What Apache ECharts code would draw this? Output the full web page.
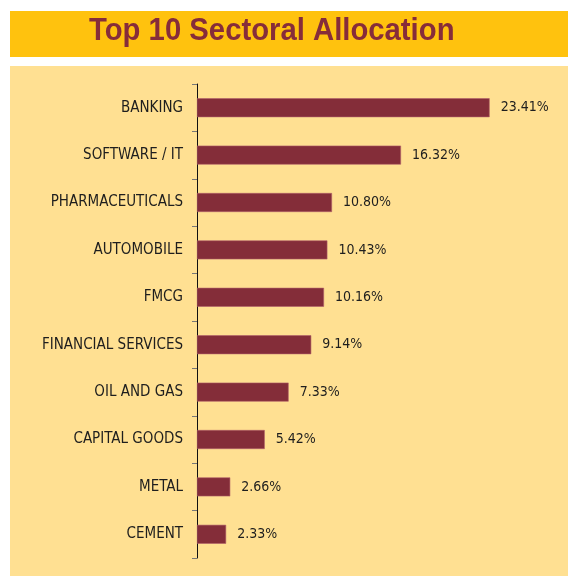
<!DOCTYPE html>
<html><head><meta charset="utf-8">
<script src="https://cdn.jsdelivr.net/npm/echarts@6/dist/echarts.min.js"></script>
<style>html,body{margin:0;padding:0;background:#fff;}#c{width:568px;height:576px;}</style>
</head><body><div id="c"></div>
<script>
const categories = ["BANKING","SOFTWARE / IT","PHARMACEUTICALS","AUTOMOBILE","FMCG","FINANCIAL SERVICES","OIL AND GAS","CAPITAL GOODS","METAL","CEMENT"];
const values = [23.41,16.32,10.80,10.43,10.16,9.14,7.33,5.42,2.66,2.33];
const titleText = "Top 10 Sectoral Allocation";

const FONT = "'DejaVu Sans Condensed','Liberation Sans Narrow','Arial Narrow',sans-serif";
const chart = echarts.init(document.getElementById('c'), null, {renderer:'canvas'});
chart.setOption({
  animation:false,
  backgroundColor:'#ffffff',
  graphic:[
    {type:'rect', z:-10, shape:{x:10,y:11,width:570,height:46}, style:{fill:'#FFC20E'}},
    {type:'rect', z:-10, shape:{x:10,y:66,width:570,height:510}, style:{fill:'#FFE092'}},
    {type:'text', z:10, x:89, y:15, scaleX:0.915, style:{text:titleText, fill:'#862D3A', font:"bold 32px 'Liberation Sans',Arial,sans-serif"}}
  ],
  grid:{left:197, top:84, width:350, height:474},
  xAxis:{type:'value', min:0, max:28, show:false},
  yAxis:{
    type:'category', data:categories, inverse:true,
    axisLine:{show:true, lineStyle:{color:'#111', width:1}},
    axisTick:{show:true, length:5, lineStyle:{color:'#777'}},
    axisLabel:{color:'#1e1e1e', fontSize:15, fontFamily:FONT, margin:14},
    splitLine:{show:false}
  },
  series:[{
    type:'bar', data:values, barWidth:19,
    itemStyle:{color:'#842D39', borderColor:'#B0606A', borderWidth:0.6},
    label:{show:true, position:'right', distance:11, color:'#1e1e1e', fontSize:14, fontFamily:FONT,
      formatter:p=>p.value.toFixed(2)+'%'}
  }]
});
</script></body></html>
